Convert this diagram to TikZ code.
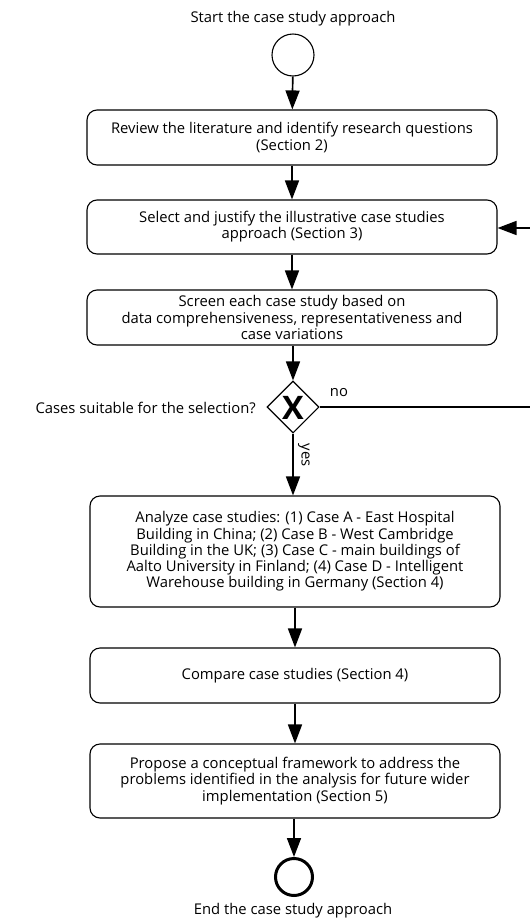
\documentclass[tikz,border=0pt]{standalone}
\usepackage{fontspec}
\setmainfont{Open Sans}
\usetikzlibrary{arrows.meta,shapes.geometric}
\begin{document}
\begin{tikzpicture}[x=1pt,y=-1pt,
  font=\fontsize{14.8}{16.2}\selectfont,
  box/.style={draw, line width=1.1pt, rounded corners=10pt, minimum width=410pt, align=center, inner sep=2pt},
  arr/.style={line width=1.7pt, -{Triangle[width=14pt,length=19pt]}},
  lbl/.style={inner sep=0pt}]
\useasboundingbox (0,0) rectangle (530,919);
\node[lbl] (starttxt) at (293,19) {Start the case study approach};
\node[draw, circle, line width=1.1pt, minimum size=42pt, inner sep=0pt] (start) at (293,55) {};
\node[box, minimum height=55pt] (b1) at (292,137.5) {Review the literature and identify research questions\\(Section 2)};
\node[box, minimum height=54pt] (b2) at (292,227) {Select and justify the illustrative case studies\\approach (Section 3)};
\node[box, minimum height=55pt] (b3) at (292,317.5) {Screen each case study based on\\data comprehensiveness, representativeness and\\case variations};
\node[draw, diamond, line width=1.1pt, minimum width=52pt, minimum height=52pt, inner sep=0pt] (dia) at (293,407) {};
\node[lbl, font=\fontsize{36}{36}\bfseries\selectfont, scale=0.9] (x) at (293,408) {X};
\node[lbl, anchor=east] (q) at (256,408) {Cases suitable for the selection?};
\node[lbl] (no) at (339,393) {no};
\node[lbl, rotate=-90] (yes) at (304,455) {yes};
\node[box, minimum height=111pt] (b4) at (295,551.5) {Analyze case studies: (1) Case A - East Hospital\\Building in China; (2) Case B - West Cambridge\\Building in the UK; (3) Case C - main buildings of\\Aalto University in Finland; (4) Case D - Intelligent\\Warehouse building in Germany (Section 4)};
\node[box, minimum height=55pt] (b5) at (295,675.5) {Compare case studies (Section 4)};
\node[box, minimum height=74pt] (b6) at (295,781) {Propose a conceptual framework to address the\\problems identified in the analysis for future wider\\implementation (Section 5)};
\node[draw, circle, line width=3pt, minimum size=37pt, inner sep=0pt] (end) at (294,877) {};
\node[lbl] (endtxt) at (293,911) {End the case study approach};
\coordinate (la) at (540,407);
\coordinate (lb) at (540,228);
\draw[arr] (start) -- (b1);
\draw[arr] (b1) -- (b2);
\draw[arr] (b2) -- (b3);
\draw[arr] (b3.south -| dia) -- (dia.north);
\draw[arr] (dia.south) -- (dia.south |- b4.north);
\draw[arr] (b4) -- (b5);
\draw[arr] (b5) -- (b6);
\draw[arr] (b6.south -| end) -- (end.north);
\draw[arr] (dia.east) -- (la) -- (lb) -- (b2.east |- lb);
\end{tikzpicture}
\end{document}
